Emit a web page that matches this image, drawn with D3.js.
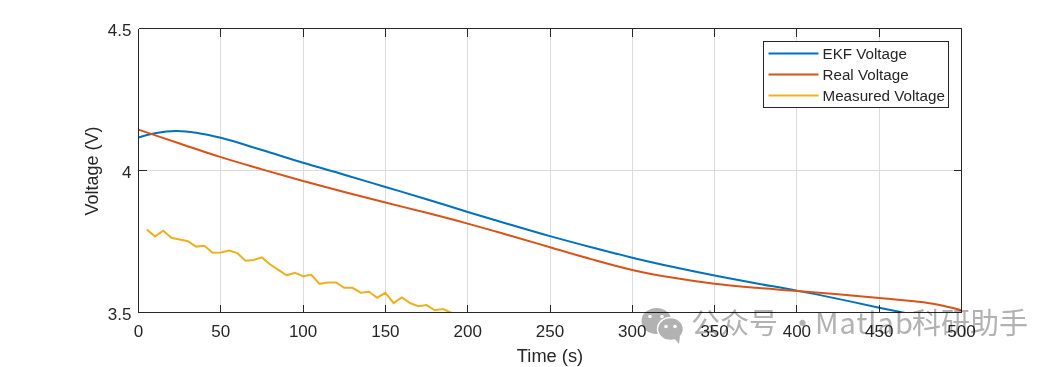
<!DOCTYPE html>
<html>
<head>
<meta charset="utf-8">
<script src="https://cdnjs.cloudflare.com/ajax/libs/d3/7.8.5/d3.min.js"></script>
<style>
html,body{margin:0;padding:0;background:#fff;overflow:hidden;}
text{font-family:Arial,"Liberation Sans",sans-serif;}
</style>
</head>
<body>
<script>
var xTicks=[0,50,100,150,200,250,300,350,400,450,500];
var yTicks=[3.5,4,4.5];
var yTickLabels=["3.5","4","4.5"];
var seriesNames=["EKF Voltage","Real Voltage","Measured Voltage"];
var seriesColors=["#0072BD","#D95319","#EDB120"];

var ekfT=[0,10,23,35,50,75,100,125,150,175,200,225,250,275,300,325,350,375,400,425,450,465,500];
var ekfV=[4.116,4.131,4.139,4.133,4.115,4.072,4.027,3.985,3.942,3.899,3.854,3.811,3.769,3.730,3.693,3.660,3.630,3.603,3.577,3.548,3.517,3.499,3.455];
var realT=[0,25,50,75,100,125,150,175,200,225,250,275,300,325,350,375,400,425,450,477,490,500];
var realV=[4.144,4.095,4.047,4.004,3.963,3.924,3.887,3.851,3.813,3.772,3.730,3.688,3.650,3.622,3.601,3.587,3.576,3.564,3.551,3.536,3.522,3.508];
var measT=[5,10,15,20,25,30,35,40,45,50,55,60,65,70,75,80,85,90,95,100,105,110,115,120,125,130,135,140,145,150,155,160,165,170,175,180,185,190];
var measV=[3.792,3.768,3.788,3.763,3.757,3.751,3.732,3.735,3.710,3.711,3.718,3.709,3.682,3.685,3.694,3.669,3.650,3.631,3.640,3.628,3.633,3.601,3.606,3.606,3.587,3.587,3.570,3.573,3.552,3.569,3.533,3.553,3.533,3.522,3.526,3.508,3.512,3.499];

var width=1063,height=367;
var left=138.5,right=961.5,top_=28.5,bottom=312.5;
var axisColor="#262626";

var svg=d3.select("body").append("svg")
	.attr("width",width)
	.attr("height",height)
	.style("display","block");

var x=d3.scaleLinear().domain([0,500]).range([left,right]);
var y=d3.scaleLinear().domain([3.5,4.5]).range([bottom,top_]);

svg.append("defs").append("clipPath").attr("id","plot")
	.append("rect")
	.attr("x",left).attr("y",top_)
	.attr("width",right-left).attr("height",bottom-top_);

// grid
svg.append("g").attr("shape-rendering","crispEdges").selectAll("line").data(xTicks.slice(1,-1)).enter().append("line")
	.attr("x1",function(d){return x(d);}).attr("x2",function(d){return x(d);})
	.attr("y1",top_).attr("y2",bottom)
	.attr("stroke","#dcdcdc").attr("stroke-width",1);
svg.append("g").attr("shape-rendering","crispEdges").append("line")
	.attr("x1",left).attr("x2",right)
	.attr("y1",y(4)).attr("y2",y(4))
	.attr("stroke","#dcdcdc").attr("stroke-width",1);

// lines, below the axes so the box stays on top
var seriesT=[ekfT,realT,measT];
var seriesV=[ekfV,realV,measV];
var lineCurve=d3.line()
	.x(function(d){return x(d[0]);})
	.y(function(d){return y(d[1]);})
	.curve(d3.curveCatmullRom);
var lineStraight=d3.line()
	.x(function(d){return x(d[0]);})
	.y(function(d){return y(d[1]);});
seriesNames.forEach(function(name,i){
	var pts=d3.zip(seriesT[i],seriesV[i]);
	svg.append("path")
		.attr("d",i<2?lineCurve(pts):lineStraight(pts))
		.attr("fill","none")
		.attr("stroke",seriesColors[i])
		.attr("stroke-width",2)
		.attr("clip-path","url(#plot)");
});

// axes, the tick marks point inward like matlab
var xAxis=svg.append("g").attr("transform","translate(0,"+bottom+")")
	.call(d3.axisBottom(x).offset(0).tickValues(xTicks).tickSizeInner(-8).tickSizeOuter(0).tickPadding(12));
var yAxis=svg.append("g").attr("transform","translate("+left+",0)")
	.call(d3.axisLeft(y).offset(0).tickValues(yTicks).tickFormat(function(d,i){return yTickLabels[i];}).tickSizeInner(-8).tickSizeOuter(0).tickPadding(7));
[xAxis,yAxis].forEach(function(a){
	a.selectAll("path,line").attr("stroke",axisColor).attr("stroke-width",1).attr("shape-rendering","crispEdges");
	a.selectAll("text").attr("fill",axisColor).style("font-size","17px");
});
yAxis.selectAll("text").attr("dy","0.42em");

// top and right box, ticks too
var box=svg.append("g").attr("shape-rendering","crispEdges");
box.append("line").attr("x1",left).attr("x2",right).attr("y1",top_).attr("y2",top_).attr("stroke",axisColor);
box.append("line").attr("x1",right).attr("x2",right).attr("y1",top_).attr("y2",bottom).attr("stroke",axisColor);
box.append("g").selectAll("line").data(xTicks).enter().append("line")
	.attr("x1",function(d){return x(d);}).attr("x2",function(d){return x(d);})
	.attr("y1",top_).attr("y2",top_+8)
	.attr("stroke",axisColor);
box.append("g").selectAll("line").data(yTicks).enter().append("line")
	.attr("x1",right).attr("x2",right-8)
	.attr("y1",function(d){return y(d);}).attr("y2",function(d){return y(d);})
	.attr("stroke",axisColor);

svg.append("text").attr("x",550).attr("y",362)
	.attr("text-anchor","middle").attr("fill",axisColor).style("font-size","18.3px")
	.text("Time (s)");
svg.append("text").attr("transform","translate(98,171) rotate(-90)")
	.attr("text-anchor","middle").attr("fill",axisColor).style("font-size","18px")
	.text("Voltage (V)");

// legend
var lg=svg.append("g").attr("transform","translate(763.5,41.5)");
lg.append("rect").attr("width",185).attr("height",66).attr("fill","#fff").attr("stroke",axisColor);
seriesNames.forEach(function(name,i){
	var ly=12+i*21;
	lg.append("line").attr("x1",5).attr("x2",55).attr("y1",ly).attr("y2",ly)
		.attr("stroke",seriesColors[i]).attr("stroke-width",2);
	lg.append("text").attr("x",59).attr("y",ly+5.5).attr("fill",axisColor)
		.style("font-size","15.2px").text(name);
});

// watermark sits over the chart, multiply keeps the labels readable
var wm=svg.append("g").attr("fill","#b2b2b2").style("mix-blend-mode","multiply");
wm.append("ellipse").attr("cx",656.5).attr("cy",321).attr("rx",15).attr("ry",13);
wm.append("ellipse").attr("cx",670.5).attr("cy",329).attr("rx",13).attr("ry",11.5).attr("stroke","#fff").attr("stroke-width",1.5);
wm.append("path").attr("d","M674 338L679 344L680 336Z");
[[650,316.5],[662,316.5],[666,326.5],[675,326.5]].forEach(function(e){
	wm.append("circle").attr("cx",e[0]).attr("cy",e[1]).attr("r",1.8).attr("fill","#fff");
});
var wmFont='"Noto Sans CJK SC",sans-serif';
[["公众号",691,0],["·",788,0],["Matlab",815,1],["科研助手",912,0]].forEach(function(t){
	wm.append("text").attr("x",t[1]).attr("y",334)
		.style("font-family",wmFont)
		.style("font-size","29px")
		.style("letter-spacing",t[2]+"px")
		.text(t[0]);
});
</script>
</body>
</html>
